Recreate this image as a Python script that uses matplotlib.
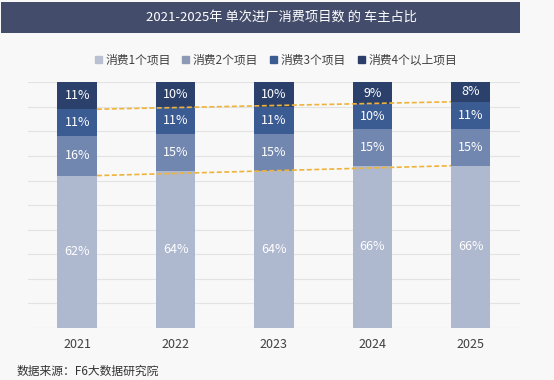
import numpy as np
import matplotlib
matplotlib.use("Agg")
import matplotlib.pyplot as plt
from matplotlib.patches import Rectangle

plt.rcParams['font.family'] = ['Noto Sans CJK SC', 'DejaVu Sans']

years = ['2021', '2022', '2023', '2024', '2025']
series_names = ['消费1个项目', '消费2个项目', '消费3个项目', '消费4个以上项目']
one_item = [62, 64, 64, 66, 66]
two_items = [16, 15, 15, 15, 15]
three_items = [11, 11, 11, 10, 11]
four_plus = [11, 10, 10, 9, 8]

colors = ['#aeb8cf', '#7287b0', '#3b5b93', '#2b416c']
legend_colors = ['#b9c0d2', '#8e99b5', '#3b5b93', '#2b3d69']

fig = plt.figure(figsize=(5.54, 3.80), dpi=100)
fig.patch.set_facecolor('#f8f8f8')

# title bar
fig.patches.append(Rectangle((0.002, 0.913), 0.937, 0.082, transform=fig.transFigure,
                             facecolor='#434c6a', edgecolor='none'))
fig.text(0.508, 0.954, '2021-2025年 单次进厂消费项目数 的 车主占比', color='white',
         fontsize=9.5, ha='center', va='center')

ax = fig.add_axes([0.0505, 0.1368, 0.888, 0.647])
ax.set_facecolor('#f8f8f8')

x = np.arange(len(years))
w = 0.4
data = [one_item, two_items, three_items, four_plus]
bottom = np.zeros(len(years))
for vals, c in zip(data, colors):
    v = np.array(vals) / 100
    ax.bar(x, v, w, bottom=bottom, color=c, zorder=2)
    for xi, b, vi, raw in zip(x, bottom, v, vals):
        ax.text(xi, b + vi / 2, f'{raw}%', color='white', fontsize=9,
                ha='center', va='center', zorder=4)
    bottom = bottom + v

# trend lines between first and last bar
lvl1 = np.array(one_item) / 100
lvl3 = (np.array(one_item) + np.array(two_items) + np.array(three_items)) / 100
for lv in (lvl1, lvl3):
    ax.plot([x[0] + w / 2, x[-1] - w / 2], [lv[0], lv[-1]], color='#eeb33a',
            linestyle=(0, (3, 1.5)), linewidth=1.2, zorder=3)

ax.set_xlim(-0.5, len(years) - 0.5)
ax.set_ylim(0, 1)
ax.set_yticks(np.arange(0, 1.01, 0.1))
ax.yaxis.grid(True, color='#e3e3e3', linewidth=0.8, zorder=0)
ax.tick_params(axis='y', left=False, labelleft=False)
ax.tick_params(axis='x', length=0, labelsize=9, labelcolor='#404040', pad=7)
ax.set_xticks(x)
ax.set_xticklabels(years)
for s in ax.spines.values():
    s.set_visible(False)

handles = [Rectangle((0, 0), 1, 1, color=c) for c in legend_colors]
fig.legend(handles, series_names, loc='center', bbox_to_anchor=(0.498, 0.842), ncol=4,
           frameon=False, fontsize=8.5, handlelength=0.6, handleheight=0.6,
           handletextpad=0.3, columnspacing=1.0, labelcolor='#404040')

fig.text(0.029, 0.024, '数据来源：F6大数据研究院', fontsize=8.5, color='#333333', ha='left', va='center')

fig.savefig('out.png', dpi=100, facecolor=fig.get_facecolor())
